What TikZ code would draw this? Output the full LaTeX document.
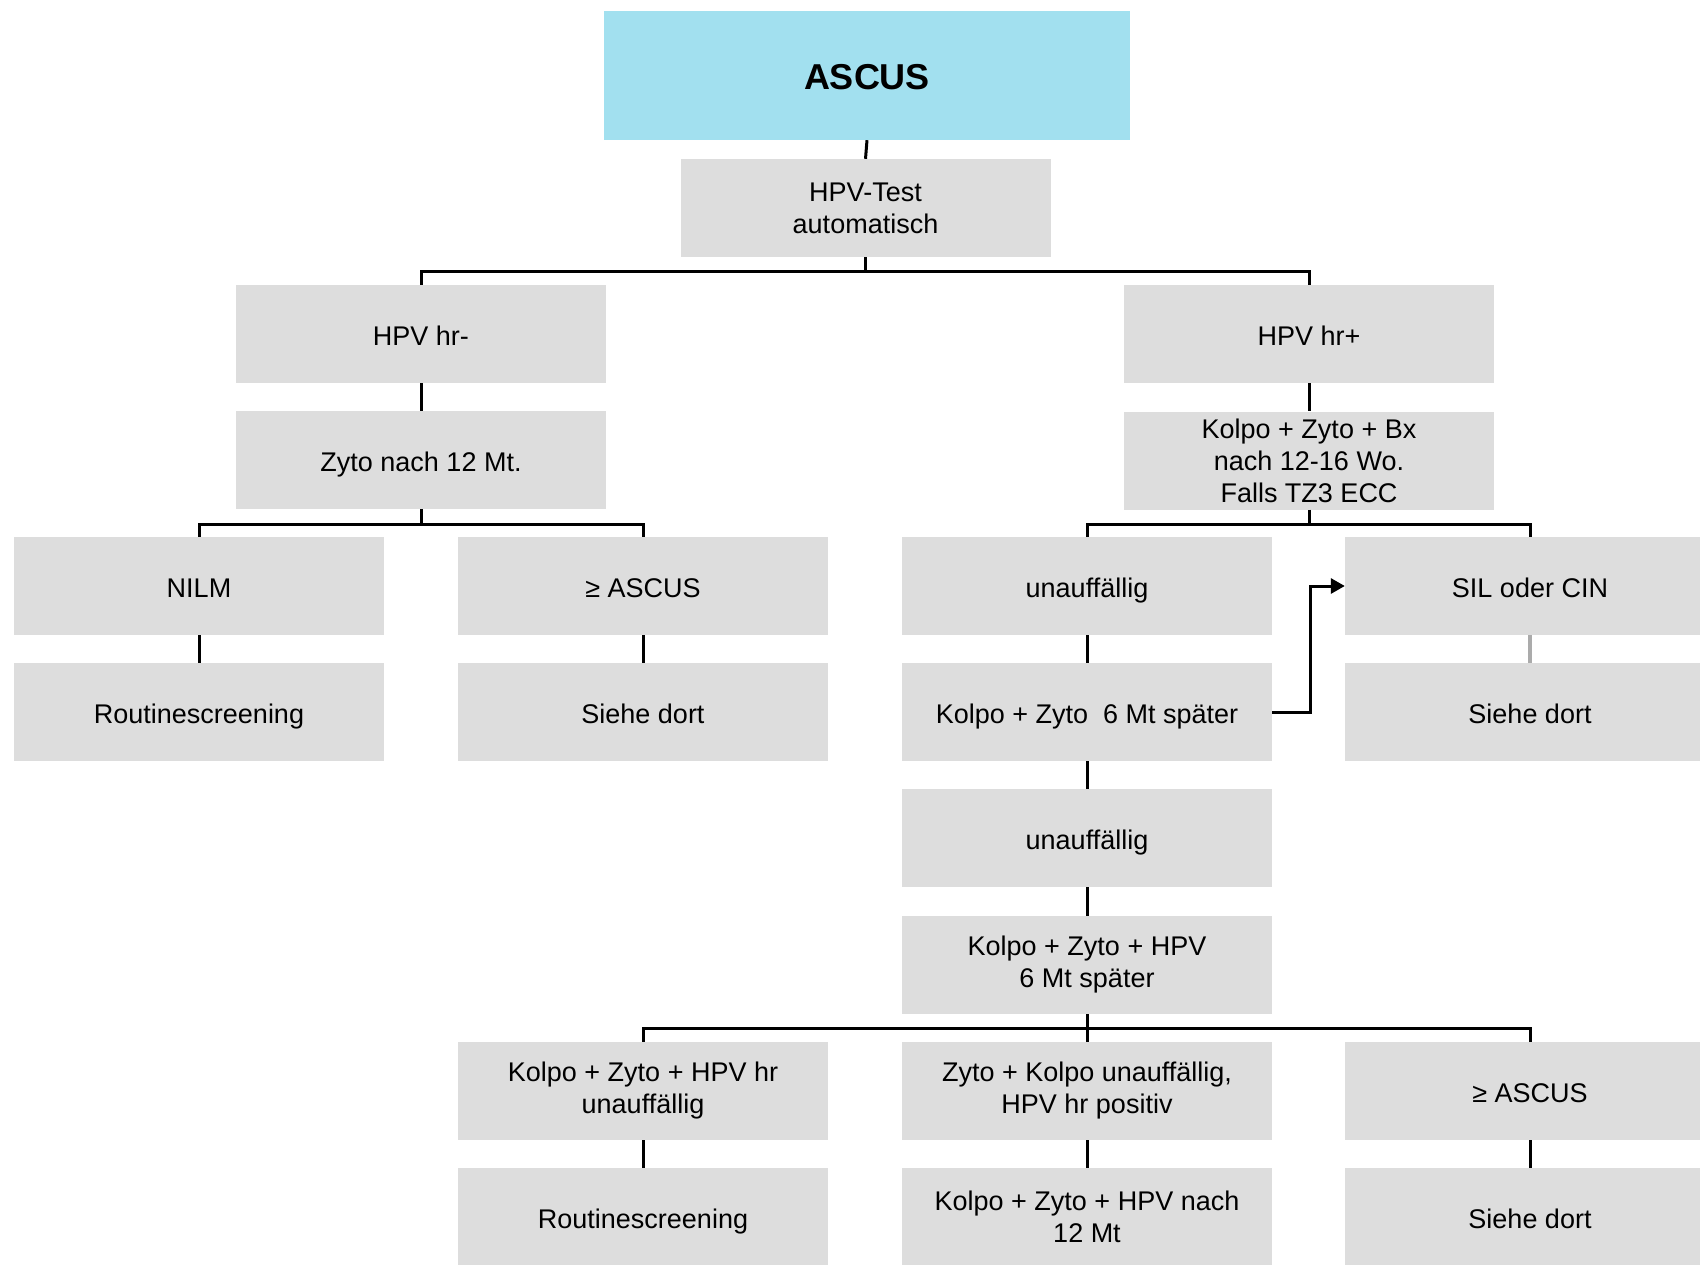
\documentclass[tikz,border=0pt]{standalone}
\usepackage{fontspec}
\setmainfont{Liberation Sans}
\usetikzlibrary{arrows.meta}
\definecolor{boxgray}{HTML}{DDDDDD}
\definecolor{headcyan}{HTML}{A2E0EF}
\definecolor{linkgray}{HTML}{ABABAB}
\begin{document}
\begin{tikzpicture}[x=1pt,y=-1pt,
  box/.style={fill=boxgray,draw=none,minimum width=370pt,minimum height=98pt,
    inner sep=0pt,align=center,font=\fontsize{27}{32}\selectfont},
  oneline/.style={box,text height=27pt,text depth=5pt},
  head/.style={fill=headcyan,draw=none,minimum width=526pt,minimum height=129pt,
    inner sep=0pt,text height=35pt,text depth=7pt,
    font=\fontsize{36}{40}\selectfont\bfseries},
  link/.style={line width=3pt,draw=black},
  softlink/.style={line width=4pt,draw=linkgray},
  arr/.style={line width=3pt,draw=black,-{Triangle[length=14pt,width=15pt]}}]
\useasboundingbox (0,0) rectangle (1700,1264);
\clip (0,0) rectangle (1700,1264);

% title and test
\node[head] (ascus) at (867,75.5) {ASCUS};
\node[box] (test) at (865.5,208) {HPV-Test\\automatisch};

% first split
\node[oneline] (hrm) at (421,334) {HPV hr-};
\node[oneline] (hrp) at (1309,334) {HPV hr+};
\node[oneline] (zyto12) at (421,460) {Zyto nach 12 Mt.};
\node[box] (kzbx) at (1309,460.5) {Kolpo + Zyto + Bx\\nach 12-16 Wo.\\Falls TZ3 ECC};

% third row
\node[oneline] (nilm) at (199,586) {NILM};
\node[oneline] (asc1) at (643,586) {≥ ASCUS};
\node[oneline] (unauf1) at (1087,586) {unauffällig};
\node[oneline] (sil) at (1530,586) {SIL oder CIN};

% fourth row
\node[oneline] (rout1) at (199,712) {Routinescreening};
\node[oneline] (siehe1) at (643,712) {Siehe dort};
\node[oneline] (kz6) at (1087,712) {Kolpo + Zyto\ \ 6 Mt später};
\node[oneline] (siehe2) at (1530,712) {Siehe dort};

% right branch continues
\node[oneline] (unauf2) at (1087,838) {unauffällig};
\node[box] (kzh6) at (1087,965) {Kolpo + Zyto + HPV\\6 Mt später};

% last split
\node[box] (kzhun) at (643,1091) {Kolpo + Zyto + HPV hr\\unauffällig};
\node[box] (zkpos) at (1087,1091) {Zyto + Kolpo unauffällig,\\HPV hr positiv};
\node[oneline] (asc2) at (1530,1091) {≥ ASCUS};
\node[oneline] (rout2) at (643,1217) {Routinescreening};
\node[box] (kzh12) at (1087,1217) {Kolpo + Zyto + HPV nach\\12 Mt};
\node[oneline] (siehe3) at (1530,1217) {Siehe dort};

% connectors
\draw[link] (ascus.south) -- (test.north);
\draw[link] (test.south) -- ++(0,14) coordinate (j1);
\draw[link] (hrm.north) |- (j1) -| (hrp.north);
\draw[link] (hrm) -- (zyto12);
\draw[link] (hrp) -- (kzbx);

\draw[link] (zyto12.south) -- ++(0,15) coordinate (j2);
\draw[link] (nilm.north) |- (j2) -| (asc1.north);
\draw[link] (kzbx.south) -- ++(0,15) coordinate (j3);
\draw[link] (unauf1.north) |- (j3) -| (sil.north);

\draw[link] (nilm) -- (rout1);
\draw[link] (asc1) -- (siehe1);
\draw[link] (unauf1) -- (kz6);
\draw[softlink] (sil) -- (siehe2);
\draw[arr] (kz6.east) -- ++(38,0) |- (sil.west);

\draw[link] (kz6) -- (unauf2);
\draw[link] (unauf2) -- (kzh6);
\draw[link] (kzh6) -- (zkpos);
\draw[link] (kzh6.south) -- ++(0,14) coordinate (j4);
\draw[link] (kzhun.north) |- (j4) -| (asc2.north);

\draw[link] (kzhun) -- (rout2);
\draw[link] (zkpos) -- (kzh12);
\draw[link] (asc2) -- (siehe3);
\end{tikzpicture}
\end{document}
